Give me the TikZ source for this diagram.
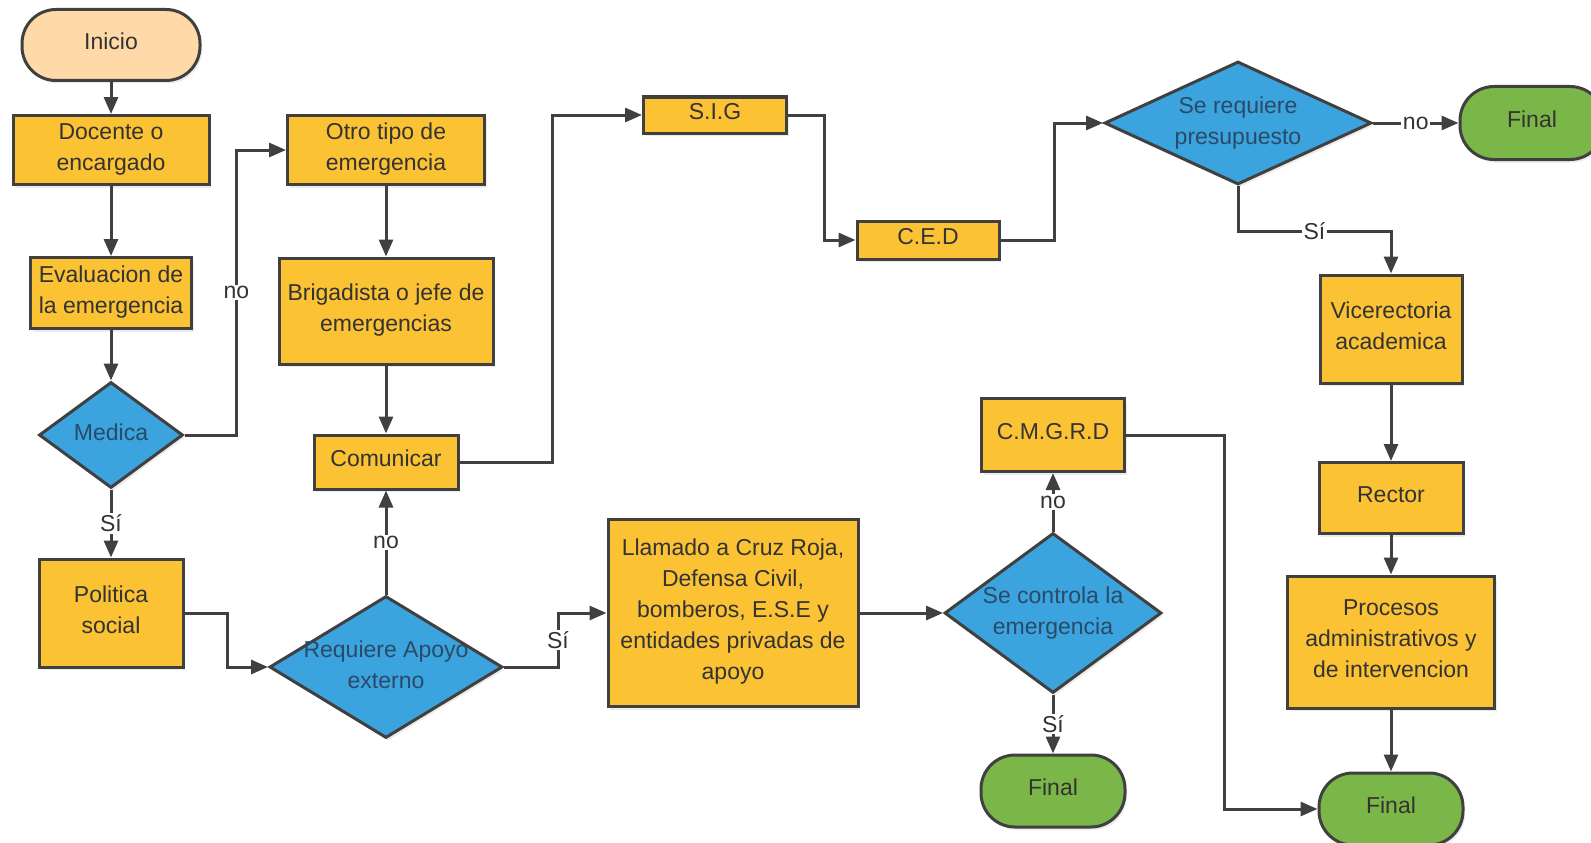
\documentclass[tikz,border=0pt]{standalone}
\usepackage{fontspec}
\setmainfont{Liberation Sans}
\usetikzlibrary{shapes.geometric,arrows.meta,shadows,calc}
\definecolor{orng}{HTML}{FBC233}
\definecolor{blu}{HTML}{3BA3DD}
\definecolor{grn}{HTML}{7AB648}
\definecolor{peach}{HTML}{FFDAA8}
\definecolor{ln}{HTML}{404040}
\definecolor{txt}{HTML}{333333}
\definecolor{dtxt}{HTML}{2A4A68}
\newcommand{\zt}[2][-5pt]{\smash{\makebox[0pt]{\raisebox{#1}{\begin{tabular}{@{}c@{}}#2\end{tabular}}}}}
\begin{document}
\begin{tikzpicture}[x=1pt,y=-1pt,
  base/.style={draw=ln, line width=3pt, font=\fontsize{23}{31}\selectfont, text=txt, align=center, inner sep=0pt,
    drop shadow={opacity=0.15, shadow xshift=2pt, shadow yshift=-3pt}},
  box/.style={base, rectangle, fill=orng},
  term/.style={base, rectangle, rounded corners=34pt, fill=grn},
  dia/.style={base, diamond, fill=blu, text=dtxt},
  arr/.style={draw=ln, line width=3pt, -{Triangle[length=17pt,width=14pt]}},
  lbl/.style={fill=white, inner sep=1.5pt, text=txt, font=\fontsize{23}{28}\selectfont}
]
\useasboundingbox (0,0) rectangle (1591,843);
\fill[white] (0,0) rectangle (1591,843);
\clip (0,0) rectangle (1591,843);

\node[term, fill=peach, minimum width=178pt, minimum height=71pt] (inicio) at (111,45) {\zt{Inicio}};
\node[box, minimum width=196pt, minimum height=69pt] (docente) at (111,150) {\zt{Docente o\\encargado}};
\node[box, minimum width=161pt, minimum height=71pt] (eval) at (111,293) {\zt{Evaluacion de\\la emergencia}};
\node[dia, minimum width=144pt, minimum height=106pt] (medica) at (111,435) {\zt[-6pt]{Medica}};
\node[box, minimum width=144pt, minimum height=108pt] (pol) at (111,613) {\zt{Politica\\social}};
\node[box, minimum width=197pt, minimum height=69pt] (otro) at (386,150) {\zt{Otro tipo de\\emergencia}};
\node[box, minimum width=214pt, minimum height=106pt] (brig) at (386,311) {\zt{Brigadista o jefe de\\emergencias}};
\node[box, minimum width=144pt, minimum height=54pt] (com) at (386,462) {\zt{Comunicar}};
\node[dia, minimum width=233pt, minimum height=142pt] (req) at (386,667) {\zt[-6pt]{Requiere Apoyo\\externo}};
\node[box, minimum width=143pt, minimum height=36pt] (sig) at (715,115) {\zt{S.I.G}};
\node[box, minimum width=142pt, minimum height=38pt] (ced) at (928,240) {\zt{C.E.D}};
\node[box, minimum width=250pt, minimum height=187pt] (llam) at (733,613) {\zt{Llamado a Cruz Roja,\\Defensa Civil,\\bomberos, E.S.E y\\entidades privadas de\\apoyo}};
\node[dia, minimum width=217pt, minimum height=160pt] (ctrl) at (1053,613) {\zt[-6pt]{Se controla la\\emergencia}};
\node[box, minimum width=143pt, minimum height=73pt] (cmg) at (1053,435) {\zt{C.M.G.R.D}};
\node[term, minimum width=144pt, minimum height=72pt] (fin1) at (1053,791) {\zt{Final}};
\node[dia, minimum width=267pt, minimum height=123pt] (pres) at (1238,123) {\zt[-6pt]{Se requiere\\presupuesto}};
\node[term, minimum width=144pt, minimum height=73pt] (fin2) at (1532,123) {\zt{Final}};
\node[box, minimum width=142pt, minimum height=108pt] (vice) at (1391,329) {\zt{Vicerectoria\\academica}};
\node[box, minimum width=144pt, minimum height=71pt] (rect) at (1391,498) {\zt{Rector}};
\node[box, minimum width=207pt, minimum height=132pt] (proc) at (1391,642) {\zt{Procesos\\administrativos y\\de intervencion}};
\node[term, minimum width=144pt, minimum height=72pt] (fin3) at (1391,809) {\zt{Final}};

\draw[arr] (inicio) -- (docente);
\draw[arr] (docente) -- (eval);
\draw[arr] (eval) -- (medica);
\draw[arr] (medica) -- node[lbl]{Sí} (pol);
\draw[arr] (medica.east) -- ++(52,0) |- node[lbl,pos=0.25]{no} (otro.west);
\draw[arr] (otro) -- (brig);
\draw[arr] (brig) -- (com);
\draw[arr] (req) -- node[lbl]{no} (com);
\draw[arr] (pol.east) -- ++(43,0) |- (req.west);
\draw[arr] (com.east) -- ++(93,0) |- (sig.west);
\draw[arr] (sig.east) -- ++(36,0) |- (ced.west);
\draw[arr] (ced.east) -- ++(54,0) |- (pres.west);
\draw[arr] (req.east) -- ++(54,0) |- node[lbl,pos=0.25]{Sí} (llam.west);
\draw[arr] (llam) -- (ctrl);
\draw[arr] (ctrl) -- node[lbl]{no} (cmg);
\draw[arr] (ctrl) -- node[lbl]{Sí} (fin1);
\draw[arr] (pres) -- node[lbl]{no} (fin2);
\draw[arr] (pres.south) -- ++(0,45.5) -| node[lbl,pos=0.25]{Sí} (vice.north);
\draw[arr] (vice) -- (rect);
\draw[arr] (rect) -- (proc);
\draw[arr] (proc) -- (fin3);
\draw[arr] (cmg.east) -- ++(98,0) |- (fin3.west);
\end{tikzpicture}
\end{document}
